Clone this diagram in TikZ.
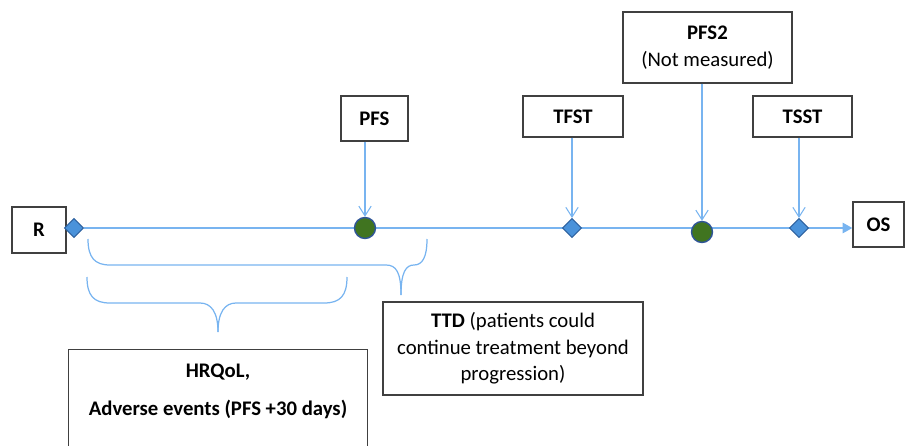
\documentclass[tikz,border=0pt]{standalone}
\usepackage{fontspec}
\setmainfont{Carlito}
\usetikzlibrary{arrows.meta,shapes.geometric,backgrounds}

\definecolor{lineblue}{RGB}{120,180,240}
\definecolor{markblue}{RGB}{74,146,218}
\definecolor{markedge}{RGB}{46,98,160}
\definecolor{dotgreen}{RGB}{64,116,32}
\definecolor{dotedge}{RGB}{47,85,151}
\definecolor{boxgray}{RGB}{64,64,64}

\tikzset{
	box/.style={draw=boxgray, line width=0.85pt, inner sep=0pt, align=center, font=\fontsize{11.8}{15}\selectfont},
	tline/.style={draw=lineblue, line width=0.8pt},
	event/.style={diamond, draw=markedge, fill=markblue, line width=0.6pt, minimum size=0.38cm, inner sep=0pt},
	dot/.style={circle, draw=dotedge, fill=dotgreen, line width=0.8pt, minimum size=0.42cm, inner sep=0pt},
	pointer/.style={tline, line width=0.6pt, -{Straight Barb[length=5.5pt,width=7pt]}},
	brace/.style={draw=lineblue, line width=0.7pt},
}

\begin{document}
\begin{tikzpicture}[x=0.02cm, y=-0.02cm]
	\useasboundingbox (0,0) rectangle (906,446);
	
	% end points and event boxes
	\node[box, minimum width=1.08cm, minimum height=0.92cm] (r) at (39,230) {\textbf{R}};
	
	\node[box, minimum width=1.02cm, minimum height=0.9cm] (os) at (878.5,224.5) {\textbf{OS}};
	
	\node[box, minimum width=1.34cm, minimum height=0.9cm] (pfs) at (374.5,118.5) {\textbf{PFS}};
	
	\node[box, minimum width=2cm, minimum height=0.82cm] (tfst) at (573,116.5) {\textbf{TFST}};
	
	\node[box, minimum width=3.38cm, minimum height=1.42cm] (pfs2) at (707.5,47.5) {\textbf{PFS2}\\(Not measured)};
	
	\node[box, minimum width=1.98cm, minimum height=0.82cm] (tsst) at (802.5,116.5) {\textbf{TSST}};
	
	\node[box, minimum width=5.2cm, minimum height=1.86cm] (ttd) at (513,348.5) {\textbf{TTD} (patients could\\continue treatment beyond\\progression)};
	
	\node[box, draw=none, minimum width=5.96cm, minimum height=1.64cm] (hrqol) at (218,391) {\textbf{HRQoL,}\\[6.5pt]\textbf{Adverse events (PFS +30 days)}};
	
	\draw[draw=boxgray, line width=0.85pt] (hrqol.north west) ++(0,110) -- (hrqol.north west) -- (hrqol.north east) -- ++(0,110);
	
	% markers on the time line
	\node[event] (rmark) at (74,228) {};
	
	\node[dot] (pfsdot) at (365,228) {};
	
	\node[event] (tfstmark) at (572,228) {};
	
	\node[dot] (pfs2dot) at (702,232) {};
	
	\node[event] (tsstmark) at (799,228) {};
	
	\begin{scope}[on background layer]
		\draw[tline, -{Triangle[length=5.5pt,width=6pt]}] (rmark.east) -- (rmark.east -| os.west);
	\end{scope}
	
	\draw[pointer] (pfsdot |- pfs.south) -- (pfsdot.north);
	
	\draw[pointer] (tfstmark |- tfst.south) -- (tfstmark.north);
	
	\draw[pointer] (pfs2dot |- pfs2.south) -- (pfs2dot.north);
	
	\draw[pointer] (tsstmark |- tsst.south) -- (tsstmark.north);
	
	% braces
	\draw[brace] (88,239) .. controls (88,258) and (95,265) .. (110,265) -- (386,265) .. controls (396,265) and (401,272) .. (401,295);
	
	\draw[brace] (427,239) .. controls (427,258) and (422,265) .. (414,265) .. controls (406,265) and (401,272) .. (401,295);
	
	\draw[brace] (87,277) .. controls (87,296) and (94,303) .. (110,303) -- (200,303) .. controls (211,303) and (218,312) .. (218,332);
	
	\draw[brace] (347,277) .. controls (347,296) and (340,303) .. (324,303) -- (236,303) .. controls (225,303) and (218,312) .. (218,332);
	
\end{tikzpicture}
\end{document}
